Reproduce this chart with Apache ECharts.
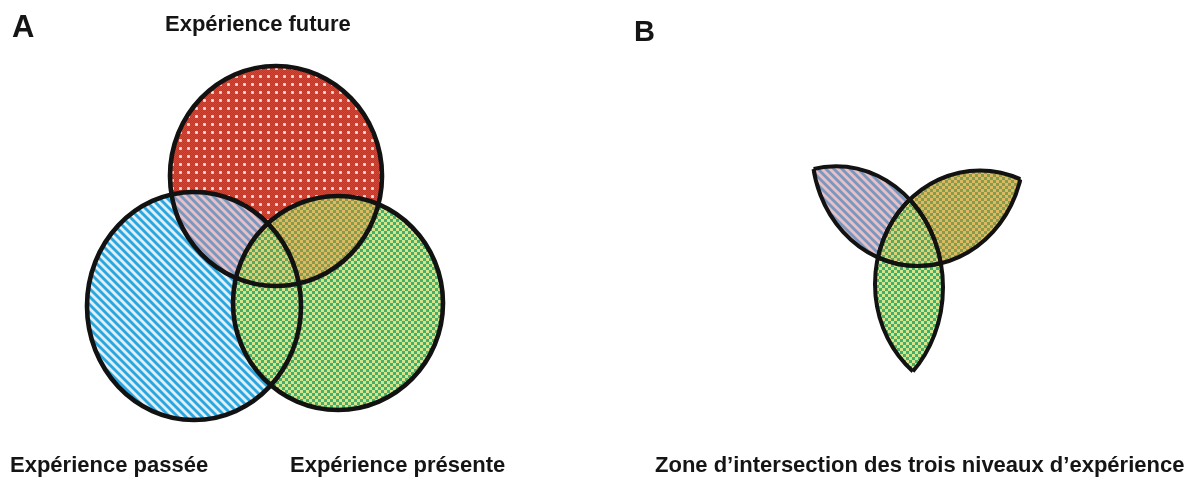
<!DOCTYPE html>
<html>
<head>
<meta charset="utf-8">
<script src="https://cdn.jsdelivr.net/npm/echarts@6/dist/echarts.min.js"></script>
<style>
  html, body { margin: 0; padding: 0; background: #fff; }
  #main { width: 1193px; height: 480px; }
</style>
</head>
<body>
<div id="main"></div>
<script>
// les trois cercles : futur (haut), passé (gauche), présent (droite)
const circleNames = ['Expérience future', 'Expérience passée', 'Expérience présente'];
const centerX = [276, 194, 338];
const centerY = [176, 306, 303];
const radiusX = [106, 107, 105];
const radiusY = [110, 114, 107];

const panelLabels = ['A', 'B'];
const zoneLabel = 'Zone d\u2019intersection des trois niveaux d\u2019expérience';

// petites tuiles de motif dessinées pixel par pixel
function makeTile(size, painter) {
  const cv = document.createElement('canvas');
  cv.width = cv.height = size;
  const ctx = cv.getContext('2d');
  const img = ctx.createImageData(size, size);
  for (let y = 0; y < size; y++) {
    for (let x = 0; x < size; x++) {
      const c = painter(x, y);
      const k = (y * size + x) * 4;
      img.data[k] = c[0]; img.data[k + 1] = c[1]; img.data[k + 2] = c[2]; img.data[k + 3] = 255;
    }
  }
  ctx.putImageData(img, 0, 0);
  return { image: cv, repeat: 'repeat' };
}

const redFill = makeTile(8, (x, y) => {
  if (x >= 3 && x <= 5 && y >= 3 && y <= 5) return (x === 4 && y === 4) ? [252, 240, 236] : [236, 192, 182];
  return (x + y) % 2 ? [176, 60, 50] : [210, 72, 56];
});
const blueFill = makeTile(8, (x, y) => {
  const d = ((x - y) % 8 + 8) % 8;
  if (d < 3) return [44, 166, 220];
  if (d === 3 || d === 7) return [128, 202, 234];
  return [220, 241, 249];
});
const greenFill = makeTile(6, (x, y) => {
  const on = (x < 3) === (y < 3);
  return on ? [214, 228, 140] : [68, 174, 106];
});
const fills = [redFill, blueFill, greenFill];
// teintes des zones de recouvrement avec le futur
const tints = [null, 'rgba(238,128,140,0.42)', 'rgba(228,128,40,0.42)'];

function ell(api, i) {
  const c = api.coord([centerX[i], centerY[i]]);
  const s = api.size([radiusX[i], radiusY[i]]);
  return { cx: c[0], cy: c[1], rx: s[0], ry: s[1] };
}

function fillEl(api, i, clipIdx, fill, opacity) {
  const el = {
    type: 'ellipse',
    shape: ell(api, i),
    style: { fill: fill || fills[i], opacity: opacity == null ? 1 : opacity }
  };
  if (clipIdx != null) el.clipPath = { type: 'ellipse', shape: ell(api, clipIdx) };
  return el;
}

function strokeEl(api, i, clipIdx, width) {
  const el = {
    type: 'ellipse',
    shape: ell(api, i),
    style: { fill: null, stroke: '#121212', lineWidth: width }
  };
  if (clipIdx != null) el.clipPath = { type: 'ellipse', shape: ell(api, clipIdx) };
  return el;
}

// A : les trois cercles complets
function renderFillsA(params, api) {
  const i = params.dataIndex;
  const children = [fillEl(api, i)];
  if (i > 0) children.push(fillEl(api, 0, i, tints[i]));
  if (i === 2) children.push(fillEl(api, 2, 1, null, 0.6));
  return { type: 'group', children: children };
}
function renderStrokesA(params, api) {
  return strokeEl(api, params.dataIndex, null, 4.6);
}

// B : seulement les zones d'intersection
function renderFillsB(params, api) {
  const i = params.dataIndex;
  const children = [];
  if (i === 1) {
    children.push(fillEl(api, 1, 0), fillEl(api, 0, 1, tints[1]));
  } else if (i === 2) {
    children.push(fillEl(api, 2, 0), fillEl(api, 2, 1), fillEl(api, 0, 2, tints[2]), fillEl(api, 2, 1, null, 0.6));
  }
  return { type: 'group', children: children };
}
function renderStrokesB(params, api) {
  const i = params.dataIndex;
  const children = [];
  for (let j = 0; j < 3; j++) {
    if (j !== i) children.push(strokeEl(api, i, j, 4));
  }
  return { type: 'group', children: children };
}

const circleData = circleNames.map((n, i) => ({ name: n, value: [centerX[i], centerY[i]] }));

const labelStyle = {
  fontFamily: 'Liberation Sans, Arial, sans-serif',
  fontWeight: 'bold',
  fontSize: 22,
  color: '#151515'
};

const chart = echarts.init(document.getElementById('main'));
chart.setOption({
  animation: false,
  backgroundColor: '#fff',
  title: [
    { text: panelLabels[0], left: 7, top: 8, textStyle: Object.assign({}, labelStyle, { fontSize: 31 }) },
    { text: panelLabels[1], left: 629, top: 13, textStyle: Object.assign({}, labelStyle, { fontSize: 29 }) },
    { text: circleNames[0], left: 160, top: 9, textStyle: labelStyle },
    { text: circleNames[1], left: 5, top: 450, textStyle: labelStyle },
    { text: circleNames[2], left: 285, top: 450, textStyle: labelStyle },
    { text: zoneLabel, left: 650, top: 450, textStyle: labelStyle }
  ],
  grid: [
    { left: 0, top: 0, width: 450, height: 480, show: false },
    { left: 642, top: 0, width: 450, height: 480, show: false }
  ],
  xAxis: [
    { gridIndex: 0, type: 'value', min: 0, max: 450, show: false },
    { gridIndex: 1, type: 'value', min: 0, max: 450, show: false }
  ],
  yAxis: [
    { gridIndex: 0, type: 'value', min: 0, max: 480, inverse: true, show: false },
    { gridIndex: 1, type: 'value', min: 35.5, max: 487.5, inverse: true, show: false }
  ],
  series: [
    { type: 'custom', xAxisIndex: 0, yAxisIndex: 0, silent: true, z: 2, data: circleData, renderItem: renderFillsA },
    { type: 'custom', xAxisIndex: 0, yAxisIndex: 0, silent: true, z: 3, data: circleData, renderItem: renderStrokesA },
    { type: 'custom', xAxisIndex: 1, yAxisIndex: 1, silent: true, z: 2, data: circleData, renderItem: renderFillsB },
    { type: 'custom', xAxisIndex: 1, yAxisIndex: 1, silent: true, z: 3, data: circleData, renderItem: renderStrokesB }
  ]
});
</script>
</body>
</html>
